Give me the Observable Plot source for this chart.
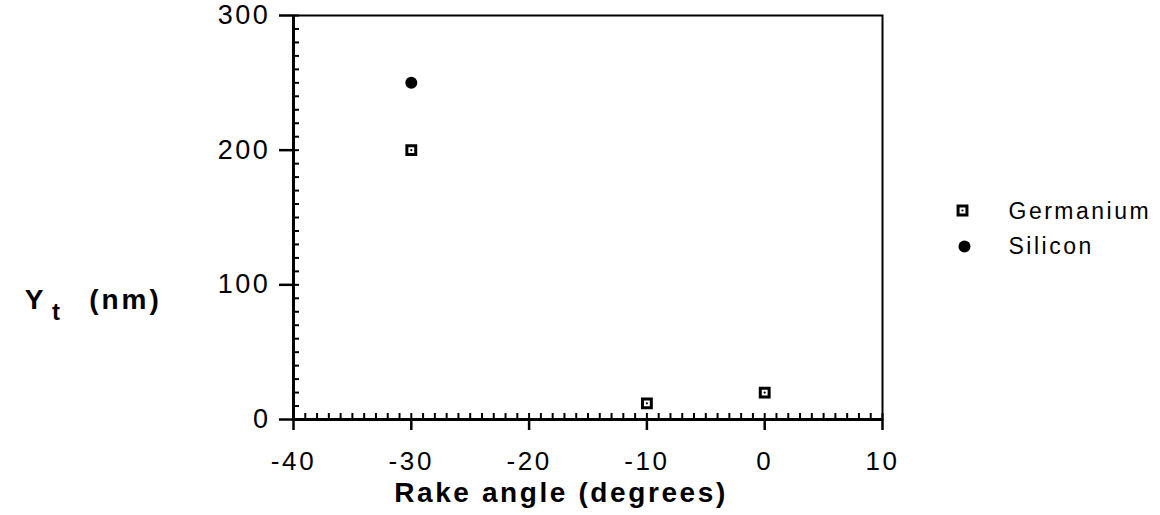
<!DOCTYPE html>
<html>
<head>
<meta charset="utf-8">
<script src="https://cdn.jsdelivr.net/npm/d3@7"></script>
<script src="https://cdn.jsdelivr.net/npm/@observablehq/plot@0.6"></script>
<style>
  html, body { margin: 0; padding: 0; background: #fff; }
  #chart svg { display: block; }
</style>
</head>
<body>
<div id="chart"></div>
<script>
// ---- data ----
const seriesNames = ["Germanium", "Silicon"];
const germaniumAngle = [-30, -10, 0];
const germaniumYt = [200, 12, 20];
const siliconAngle = [-30];
const siliconYt = [250];
const xMajorTicks = [-40, -30, -20, -10, 0, 10];
const yMajorTicks = [0, 100, 200, 300];
const xMinorTicks = d3.range(-40, 10.5, 1);
const yMinorTicks = d3.range(0, 300.5, 10);
const xTitle = "Rake angle (degrees)";
const yTitleMain = "Y";
const yTitleSub = "t";
const yTitleUnit = "(nm)";

const germaniumRows = germaniumAngle.map((a, i) => ({angle: a, yt: germaniumYt[i]}));
const siliconRows = siliconAngle.map((a, i) => ({angle: a, yt: siliconYt[i]}));

const font = "'Liberation Sans', Arial, Helvetica, sans-serif";

const chart = Plot.plot({
  width: 1160,
  height: 515,
  marginLeft: 293,
  marginRight: 278,
  marginTop: 15,
  marginBottom: 96,
  style: {fontFamily: font, background: "white", color: "black"},
  x: {domain: [-40, 10], label: null},
  y: {domain: [0, 300], label: null},
  marks: [
    Plot.frame({stroke: "black", strokeWidth: 2}),
    // minor ticks (inward)
    Plot.axisX({ticks: xMinorTicks, tickSize: -6, tickFormat: () => "", strokeWidth: 2, label: null}),
    Plot.axisY({ticks: yMinorTicks, tickSize: -6, tickFormat: () => "", strokeWidth: 2, label: null}),
    // major ticks (outward) with labels
    Plot.axisX({ticks: xMajorTicks, tickSize: 11, tickPadding: 21, fontSize: 26, strokeWidth: 2.5,
      tickFormat: d => String(d), label: null}),
    Plot.axisY({ticks: yMajorTicks, tickSize: 14, tickPadding: 9, fontSize: 27, strokeWidth: 2.5,
      tickFormat: d => String(d), label: null}),
    // heavy axis lines
    Plot.ruleY([0], {strokeWidth: 3}),
    Plot.ruleX([-40], {strokeWidth: 3}),
    // data: Germanium
    Plot.dot(germaniumRows, {x: "angle", y: "yt", symbol: "square", r: 5, stroke: "black", strokeWidth: 3, fill: "white"}),
    Plot.dot(germaniumRows, {x: "angle", y: "yt", r: 1.1, fill: "black", stroke: null}),
    // data: Silicon
    Plot.dot(siliconRows, {x: "angle", y: "yt", r: 6, fill: "black", stroke: null}),
    // legend
    Plot.dot([seriesNames[0]], {frameAnchor: "top-right", dx: 80, dy: 195, symbol: "square", r: 5, stroke: "black", strokeWidth: 3, fill: "white"}),
    Plot.dot([seriesNames[0]], {frameAnchor: "top-right", dx: 80, dy: 195, r: 1.1, fill: "black", stroke: null}),
    Plot.dot([seriesNames[1]], {frameAnchor: "top-right", dx: 82, dy: 231, r: 6, fill: "black", stroke: null}),
    Plot.text([seriesNames[0]], {frameAnchor: "top-right", dx: 126, dy: 196, text: d => d, textAnchor: "start", lineAnchor: "middle", fontSize: 23}),
    Plot.text([seriesNames[1]], {frameAnchor: "top-right", dx: 126, dy: 231, text: d => d, textAnchor: "start", lineAnchor: "middle", fontSize: 23}),
    // axis titles
    Plot.text([xTitle], {frameAnchor: "bottom", dx: -27, dy: 74, text: d => d, textAnchor: "middle", lineAnchor: "middle", fontSize: 28, fontWeight: "bold"}),
    Plot.text([yTitleMain], {frameAnchor: "left", dx: -258, dy: 83, text: d => d, textAnchor: "middle", lineAnchor: "middle", fontSize: 28, fontWeight: "bold"}),
    Plot.text([yTitleSub], {frameAnchor: "left", dx: -236, dy: 95, text: d => d, textAnchor: "middle", lineAnchor: "middle", fontSize: 24, fontWeight: "bold"}),
    Plot.text([yTitleUnit], {frameAnchor: "left", dx: -168, dy: 83, text: d => d, textAnchor: "middle", lineAnchor: "middle", fontSize: 28, fontWeight: "bold"})
  ]
});

// horizontal stretch of the scanned lettering
d3.select(chart).selectAll("text").each(function() {
  const t = this.textContent;
  let ls = null;
  if (seriesNames.includes(t)) ls = "2.5px";
  else if (t === xTitle) ls = "2.6px";
  else if (t === yTitleUnit || t === yTitleMain || t === yTitleSub) ls = "3px";
  else if (xMajorTicks.map(String).includes(t) || yMajorTicks.map(String).includes(t)) ls = "2.6px";
  if (ls) this.setAttribute("letter-spacing", ls);
});

document.getElementById("chart").appendChild(chart);
</script>
</body>
</html>
